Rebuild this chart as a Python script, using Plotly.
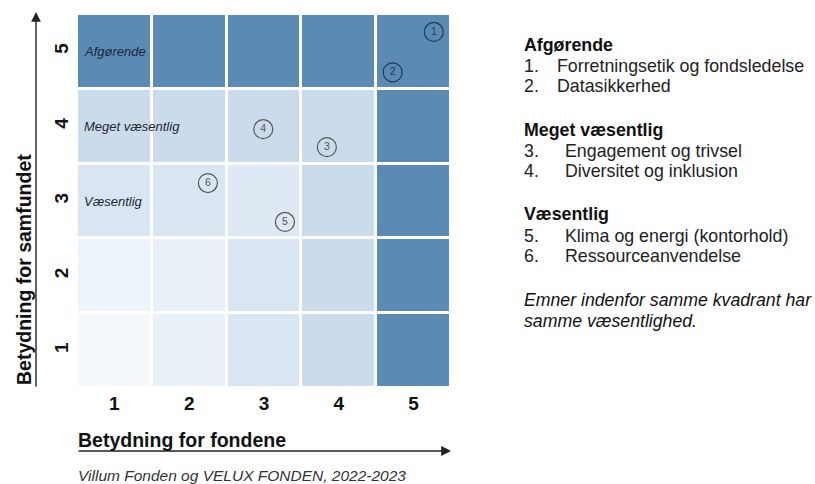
import plotly.graph_objects as go

# ---------------- data ----------------
x_scores = [1, 2, 3, 4, 5]          # Betydning for fondene
y_scores = [1, 2, 3, 4, 5]          # Betydning for samfundet

palette = ["#F5F9FC", "#EDF4FA", "#E9F1F8", "#DEE9F3", "#D9E6F1", "#CADCEB", "#5B8AB4"]
# colour level of each cell, rows = y 1..5, cols = x 1..5
cell_level = [
    [0, 2, 4, 5, 6],
    [1, 2, 4, 5, 6],
    [4, 4, 3, 5, 6],
    [5, 5, 5, 5, 6],
    [6, 6, 6, 6, 6],
]

quadrant_names = ["Afgørende", "Meget væsentlig", "Væsentlig"]
quadrant_y = [5, 4, 3]

topic_ids = [1, 2, 3, 4, 5, 6]
topic_x = [5.27, 4.72, 3.84, 2.99, 3.28, 2.25]
topic_y = [5.26, 4.72, 3.72, 3.96, 2.72, 3.24]
topic_on_dark = [True, True, False, False, False, False]

legend_groups = [
    ("Afgørende", [("1.", "Forretningsetik og fondsledelse"), ("2.", "Datasikkerhed")]),
    ("Meget væsentlig", [("3.", "Engagement og trivsel"), ("4.", "Diversitet og inklusion")]),
    ("Væsentlig", [("5.", "Klima og energi (kontorhold)"), ("6.", "Ressourceanvendelse")]),
]
note_lines = ["Emner indenfor samme kvadrant har", "samme væsentlighed."]

x_title = "Betydning for fondene"
y_title = "Betydning for samfundet"
source = "Villum Fonden og VELUX FONDEN, 2022-2023"

# ---------------- figure ----------------
W, H = 815, 484
FONT = "Liberation Sans, Arial, sans-serif"

def px(xp):
    return xp / W

def py(yp):
    return 1 - yp / H

n = len(palette) - 1
colorscale = [[i / n, c] for i, c in enumerate(palette)]

fig = go.Figure()
fig.add_trace(go.Heatmap(
    x=x_scores, y=y_scores, z=cell_level,
    colorscale=colorscale, zmin=0, zmax=n, showscale=False,
    xgap=3, ygap=3, hoverinfo="skip",
))

marker_col = ["#1E3A5C" if d else "#555555" for d in topic_on_dark]
fig.add_trace(go.Scatter(
    x=topic_x, y=topic_y, mode="markers+text",
    text=[str(t) for t in topic_ids], textposition="middle center",
    textfont=dict(family=FONT, size=10.5, color=marker_col),
    marker=dict(symbol="circle-open", size=19, color=marker_col,
                line=dict(width=1.2, color=marker_col)),
    hoverinfo="skip", cliponaxis=False,
))

annotations = []
# quadrant labels inside cells
for name, yv in zip(quadrant_names, quadrant_y):
    annotations.append(dict(
        x=0.57, y=yv, xref="x", yref="y", text=f"<i>{name}</i>", showarrow=False,
        xanchor="left", yanchor="middle",
        font=dict(family=FONT, size=13, color="#1B2838")))

# axis arrows
annotations.append(dict(
    x=px(451), y=py(451), xref="paper", yref="paper", ax=-374, ay=0,
    text="", showarrow=True, arrowhead=2, arrowsize=1.4, arrowwidth=1.4,
    arrowcolor="#222222"))
annotations.append(dict(
    x=px(36), y=py(12), xref="paper", yref="paper", ax=0, ay=376,
    text="", showarrow=True, arrowhead=2, arrowsize=1.4, arrowwidth=1.4,
    arrowcolor="#222222"))

# axis titles
annotations.append(dict(
    x=px(76), y=py(440), xref="paper", yref="paper", text=f"<b>{x_title}</b>",
    showarrow=False, xanchor="left", yanchor="middle",
    font=dict(family=FONT, size=19.5, color="#111111")))
annotations.append(dict(
    x=px(24), y=py(270), xref="paper", yref="paper", text=f"<b>{y_title}</b>",
    showarrow=False, xanchor="center", yanchor="middle", textangle=-90,
    font=dict(family=FONT, size=19.5, color="#111111")))

# source
annotations.append(dict(
    x=px(76), y=py(475), xref="paper", yref="paper", text=f"<i>{source}</i>",
    showarrow=False, xanchor="left", yanchor="middle",
    font=dict(family=FONT, size=15.5, color="#333333")))

# right-hand legend text
line_y = [[45, 66, 86], [130, 151, 171], [214, 236, 256]]
num_x = [555, 563, 563]
for (head, items), ys, tx in zip(legend_groups, line_y, num_x):
    annotations.append(dict(
        x=px(522), y=py(ys[0]), xref="paper", yref="paper", text=f"<b>{head}</b>",
        showarrow=False, xanchor="left", yanchor="middle",
        font=dict(family=FONT, size=17.8, color="#111111")))
    for (num, label), yy in zip(items, ys[1:]):
        annotations.append(dict(
            x=px(522), y=py(yy), xref="paper", yref="paper", text=num,
            showarrow=False, xanchor="left", yanchor="middle",
            font=dict(family=FONT, size=17.8, color="#222222")))
        annotations.append(dict(
            x=px(tx), y=py(yy), xref="paper", yref="paper", text=label,
            showarrow=False, xanchor="left", yanchor="middle",
            font=dict(family=FONT, size=17.8, color="#222222")))
for txt, yy in zip(note_lines, [300, 321]):
    annotations.append(dict(
        x=px(522), y=py(yy), xref="paper", yref="paper", text=f"<i>{txt}</i>",
        showarrow=False, xanchor="left", yanchor="middle",
        font=dict(family=FONT, size=17.7, color="#111111")))

fig.update_layout(
    width=W, height=H,
    margin=dict(l=0, r=0, t=0, b=0),
    paper_bgcolor="white", plot_bgcolor="white",
    showlegend=False,
    annotations=annotations,
    xaxis=dict(domain=[px(77), px(451)], range=[0.5, 5.5], tickvals=x_scores,
               showgrid=False, zeroline=False, showline=False, ticks="",
               ticklabelstandoff=2,
               tickfont=dict(family=FONT, size=19, color="#111111", weight="bold"),
               fixedrange=True),
    yaxis=dict(domain=[py(388), py(14)], range=[0.5, 5.5], tickvals=y_scores,
               showgrid=False, zeroline=False, showline=False, ticks="",
               tickangle=-90, ticklabelstandoff=4,
               tickfont=dict(family=FONT, size=19, color="#111111", weight="bold"),
               fixedrange=True),
)

fig.write_html(
    "out.html",
    config={"displayModeBar": False},
    post_script="document.body.style.margin='0';document.body.style.overflow='hidden';",
)
